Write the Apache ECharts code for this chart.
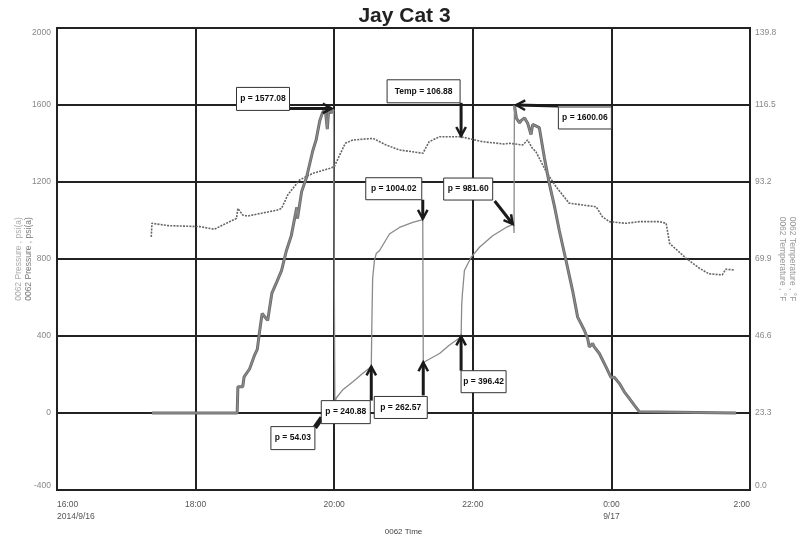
<!DOCTYPE html>
<html>
<head>
<meta charset="utf-8">
<script src="https://cdn.jsdelivr.net/npm/echarts@6/dist/echarts.min.js"></script>
<style>
html,body{margin:0;padding:0;background:#fff;}
#c{width:809px;height:539px;}
</style>
</head>
<body>
<div id="c"></div>
<script>
// ---- data (hours since 0:00 of 2014/9/16, value) ----
const xTickLabels = ['16:00\n2014/9/16', '18:00', '20:00', '22:00', '0:00\n9/17', '2:00'];

const rampUp = [[17.37,0],[18.60,0],[18.61,136],[18.68,136],[18.70,188],[18.78,230],[18.85,300],[18.89,330],
  [18.92,414],[18.96,517],[19.04,481],[19.10,621],[19.17,680],[19.24,740],[19.31,843],[19.38,920],
  [19.46,1068],[19.47,1010],[19.53,1150],[19.60,1223],[19.69,1361],[19.74,1420],[19.79,1516],
  [19.83,1559],[19.87,1580],[19.90,1475],[19.92,1570],[19.96,1560],[19.99,1577.08]];

const cycleTrace = [[20.00,1577],[20.01,54.03],[20.03,78],[20.12,119],[20.27,162],[20.41,205],[20.535,240.88],
  [20.545,500],[20.555,700],[20.58,790],[20.606,828],[20.653,843],[20.797,930],[20.942,964],[21.133,990],
  [21.278,1004.02],[21.285,262.57],[21.52,309],[21.66,352],[21.831,396.42],[21.84,560],[21.85,619],
  [21.879,740],[21.976,809],[22.096,861],[22.287,921],[22.48,964],[22.59,981.60],[22.595,935]];

const rampDown = [[22.60,1600.06],[22.63,1530],[22.675,1507],[22.70,1520],[22.747,1533],[22.79,1507],
  [22.84,1447],[22.864,1499],[22.96,1482],[23.033,1326],[23.105,1190],[23.177,1076],[23.249,947],
  [23.345,792],[23.44,636],[23.513,498],[23.561,464],[23.609,430],[23.657,387],[23.681,343],[23.70,340],
  [23.729,361],[23.75,345],[23.826,309],[23.922,240],[23.994,185],[24.042,186],[24.114,154],[24.186,110],
  [24.258,76],[24.33,41],[24.402,7],[24.427,0],[25.80,0]];

const temperature = [[17.36,76.6],[17.37,80.7],[17.6,80.0],[18.06,79.7],[18.27,78.9],[18.49,81.2],[18.59,82.2],
  [18.61,85.2],[18.68,83.2],[18.75,82.9],[19.18,84.7],[19.24,85.2],[19.33,89.3],[19.50,93.8],[19.69,95.8],
  [19.93,97.3],[20.00,97.8],[20.08,101.4],[20.16,104.9],[20.27,105.9],[20.56,106.4],[20.75,104.4],
  [20.94,102.9],[21.28,101.9],[21.37,105.4],[21.52,106.9],[21.83,106.88],[22.14,105.4],[22.45,104.7],
  [22.53,104.9],[22.72,104.4],[22.79,105.9],[22.86,103.4],[22.91,102.4],[23.06,96.3],[23.20,91.8],
  [23.39,86.8],[23.78,85.7],[23.87,82.7],[23.97,81.2],[24.21,80.7],[24.40,81.2],[24.69,81.2],[24.79,80.7],
  [24.84,74.6],[25.08,70.1],[25.27,67.1],[25.41,65.4],[25.60,65.1],[25.65,66.8],[25.77,66.6]];

const annotationTexts = ['p = 1577.08','Temp = 106.88','p = 1600.06','p = 1004.02','p = 981.60',
  'p = 240.88','p = 262.57','p = 396.42','p = 54.03'];
const annotationPoints = [[19.99,1577.08,0],[21.831,106.88,1],[22.60,1600.06,0],[21.278,1004.02,0],
  [22.59,981.60,0],[20.535,240.88,0],[21.285,262.57,0],[21.831,396.42,0],[20.01,54.03,0]];

// ---- layout of annotation boxes relative to their point (pixels) ----
const annoLayout = [
  {box:[-97,-22,53,23], tail:[-44,-1], tip:[-2,-1], head:true},
  {box:[-74,-57,73,23], tail:[0,-34], tip:[0,-1], head:true},
  {box:[44,2,53,22], tail:[44,1], tip:[2,0], head:true},
  {box:[-57,-42,56,22], tail:[0,-20], tip:[0,-1], head:true},
  {box:[-70,-46,49,22], tail:[-19,-23], tip:[-1,0], head:true},
  {box:[-50,34,49,23], tail:[0,34], tip:[0,0], head:true},
  {box:[-49,34,53,22], tail:[0,33], tip:[0,0], head:true},
  {box:[0,34,45,22], tail:[0,34], tip:[0,0], head:true},
  {box:[-64,24,44,23], tail:[-20,25], tip:[-13,15], head:false}
];

const FONT = '"Liberation Sans", Arial, sans-serif';
const chart = echarts.init(document.getElementById('c'), null, {renderer:'canvas'});
const gap = [[20.3, null]];

chart.setOption({
  animation:false,
  backgroundColor:'#fff',
  title:{text:'Jay Cat 3', left:'center', top:1,
    textStyle:{fontFamily:FONT, fontSize:21, fontWeight:'bold', color:'#222'}},
  grid:{left:57, right:59, top:28, bottom:49, outerBoundsMode:'none', containLabel:false,
    show:true, borderColor:'#222', borderWidth:2, backgroundColor:'#fff'},
  xAxis:{type:'value', min:16, max:26, interval:2,
    name:'0062 Time', nameLocation:'middle', nameGap:38, nameMoveOverlap:false,
    nameTextStyle:{fontFamily:FONT, fontSize:8, color:'#444'},
    axisLine:{show:true, lineStyle:{color:'#222', width:2}},
    axisTick:{show:false},
    splitLine:{show:true, lineStyle:{color:'#222', width:2}},
    axisLabel:{fontFamily:FONT, fontSize:8.5, color:'#555', margin:9, lineHeight:12,
      alignMinLabel:'left', alignMaxLabel:'right',
      formatter:v => xTickLabels[Math.round((v-16)/2)]}},
  yAxis:[
    {type:'value', min:-400, max:2000, interval:400, position:'left',
     name:'{a|0062 Pressure , psi(a)}\n{b|0062 Pressure , psi(a)}', nameLocation:'middle', nameGap:23, nameRotate:90,
     nameMoveOverlap:false,
     nameTextStyle:{fontFamily:FONT, fontSize:8.5, lineHeight:10.5,
       rich:{a:{color:'#aaa', fontSize:8.5, fontFamily:FONT, lineHeight:10.5}, b:{color:'#777', fontSize:8.5, fontFamily:FONT, lineHeight:10.5}}},
     axisLine:{show:true, lineStyle:{color:'#222', width:2}},
     axisTick:{show:false},
     splitLine:{show:true, lineStyle:{color:'#222', width:2}},
     axisLabel:{fontFamily:FONT, fontSize:8.5, color:'#888', margin:6,
       verticalAlignMinLabel:'bottom', verticalAlignMaxLabel:'top',
       formatter:v => String(v)}},
    {type:'value', min:0, max:139.8, interval:23.3, position:'right',
     name:'{a|0062 Temperature , °F}\n{b|0062 Temperature , °F}', nameLocation:'middle', nameGap:27, nameRotate:-90,
     nameMoveOverlap:false,
     nameTextStyle:{fontFamily:FONT, fontSize:8.5, lineHeight:10.5,
       rich:{a:{color:'#999', fontSize:8.5, fontFamily:FONT, lineHeight:10.5}, b:{color:'#999', fontSize:8.5, fontFamily:FONT, lineHeight:10.5}}},
     axisLine:{show:true, lineStyle:{color:'#222', width:2}},
     axisTick:{show:false},
     splitLine:{show:false},
     axisLabel:{fontFamily:FONT, fontSize:8.5, color:'#888', margin:5,
       verticalAlignMinLabel:'bottom', verticalAlignMaxLabel:'top',
       formatter:v => v.toFixed(1)}}
  ],
  series:[
    {name:'0062 Temperature , °F', type:'line', yAxisIndex:1, data:temperature, showSymbol:false,
     lineStyle:{color:'#666', width:1.6, type:[2,1.2]}, z:3},
    {name:'0062 Pressure , psi(a) A', type:'line', data:rampUp.concat(gap, rampDown), showSymbol:false,
     connectNulls:false, lineStyle:{color:'#6a6a6a', width:3}, z:4},
    {name:'0062 Pressure , psi(a) B', type:'line', data:rampUp.concat(cycleTrace, rampDown), showSymbol:false,
     lineStyle:{color:'#8a8a8a', width:1.3}, z:5}
  ]
});

function buildAnnotations(){
  const els = [];
  annotationPoints.forEach((pt, i) => {
    const L = annoLayout[i];
    const p = chart.convertToPixel({xAxisIndex:0, yAxisIndex:pt[2]}, [pt[0], pt[1]]);
    const tail = [p[0]+L.tail[0], p[1]+L.tail[1]];
    const tip = [p[0]+L.tip[0], p[1]+L.tip[1]];
    els.push({type:'line', z:100, shape:{x1:tail[0], y1:tail[1], x2:tip[0], y2:tip[1]},
      style:{stroke:'#1a1a1a', lineWidth:L.head ? 3 : 5}});
    if (L.head){
      const ang = Math.atan2(tip[1]-tail[1], tip[0]-tail[0]);
      const len = 10, sp = 0.5;
      const a1 = [tip[0]-len*Math.cos(ang-sp), tip[1]-len*Math.sin(ang-sp)];
      const a2 = [tip[0]-len*Math.cos(ang+sp), tip[1]-len*Math.sin(ang+sp)];
      els.push({type:'polyline', z:101, shape:{points:[a1, tip, a2]},
        style:{stroke:'#1a1a1a', lineWidth:2.5, fill:null}});
    }
    const b = L.box;
    els.push({type:'rect', z:102, shape:{x:p[0]+b[0], y:p[1]+b[1], width:b[2], height:b[3]},
      style:{fill:'#fff', stroke:'#333', lineWidth:1}});
    els.push({type:'text', z:103, x:p[0]+b[0]+b[2]/2, y:p[1]+b[1]+b[3]/2,
      style:{text:annotationTexts[i], fill:'#111', font:'bold 8.5px ' + FONT, align:'center', verticalAlign:'middle'}});
  });
  chart.setOption({graphic:els});
}
buildAnnotations();
</script>
</body>
</html>
